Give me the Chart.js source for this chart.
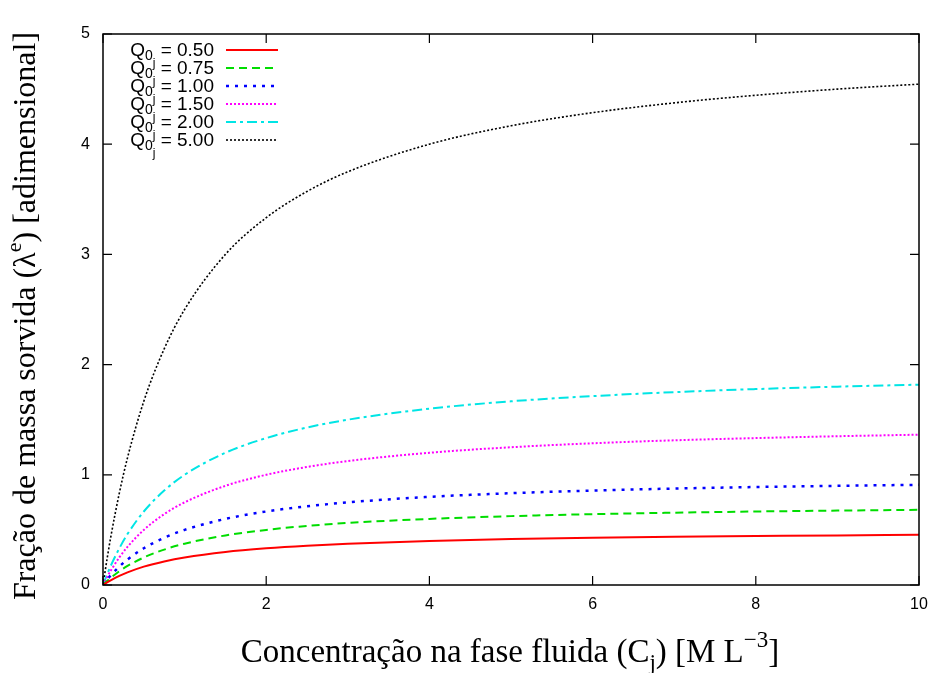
<!DOCTYPE html>
<html>
<head>
<meta charset="utf-8">
<script src="https://cdn.jsdelivr.net/npm/chart.js@4"></script>
<style>
  html, body { margin: 0; padding: 0; background: #fff; }
  #wrap { width: 933px; height: 673px; position: relative; }
</style>
</head>
<body>
<div id="wrap"><canvas id="c"></canvas></div>
<script>
// concentration C_j
const conc = [0, 0.05, 0.1, 0.2, 0.3, 0.5, 0.75, 1, 1.5, 2, 2.5, 3, 4, 5, 6, 7, 8, 9, 10];

const q050 = [0, 0.024, 0.045, 0.083, 0.115, 0.167, 0.214, 0.25, 0.30, 0.333, 0.357, 0.375, 0.40, 0.417, 0.429, 0.438, 0.444, 0.45, 0.455];
const q075 = [0, 0.036, 0.068, 0.125, 0.173, 0.25, 0.321, 0.375, 0.45, 0.50, 0.536, 0.563, 0.60, 0.625, 0.643, 0.656, 0.667, 0.675, 0.682];
const q100 = [0, 0.048, 0.091, 0.167, 0.231, 0.333, 0.429, 0.50, 0.60, 0.667, 0.714, 0.75, 0.80, 0.833, 0.857, 0.875, 0.889, 0.90, 0.909];
const q150 = [0, 0.071, 0.136, 0.25, 0.346, 0.50, 0.643, 0.75, 0.90, 1.00, 1.071, 1.125, 1.20, 1.25, 1.286, 1.313, 1.333, 1.35, 1.364];
const q200 = [0, 0.095, 0.182, 0.333, 0.462, 0.667, 0.857, 1.00, 1.20, 1.333, 1.429, 1.50, 1.60, 1.667, 1.714, 1.75, 1.778, 1.80, 1.818];
const q500 = [0, 0.238, 0.455, 0.833, 1.154, 1.667, 2.143, 2.50, 3.00, 3.333, 3.571, 3.75, 4.00, 4.167, 4.286, 4.375, 4.444, 4.50, 4.545];

const seriesLabels = ["0.50", "0.75", "1.00", "1.50", "2.00", "5.00"];
const xTicks = [0, 2, 4, 6, 8, 10];
const yTicks = [0, 1, 2, 3, 4, 5];

const styles = [
  { color: "#ff0000", width: 2,   dash: [] },
  { color: "#00dd00", width: 2,   dash: [8, 5] },
  { color: "#0000ff", width: 2.5, dash: [3, 6] },
  { color: "#ff00ff", width: 2,   dash: [2, 2] },
  { color: "#00e5e5", width: 2,   dash: [10, 4, 3, 4] },
  { color: "#000000", width: 1.6, dash: [2, 2] }
];

const allSeries = [q050, q075, q100, q150, q200, q500];

const datasets = allSeries.map((s, i) => ({
  label: seriesLabels[i],
  data: conc.map((x, k) => ({ x: x, y: s[k] })),
  showLine: true,
  borderColor: styles[i].color,
  borderWidth: styles[i].width,
  borderDash: styles[i].dash,
  pointRadius: 0,
  cubicInterpolationMode: "monotone",
  fill: false
}));

// draw a string with sub/superscripts: parts = [[text, dy, size], ...]
function drawParts(ctx, parts, x, y, family) {
  let cx = x;
  parts.forEach(p => {
    ctx.font = p[2] + "px " + family;
    ctx.fillText(p[0], cx, y + p[1]);
    cx += ctx.measureText(p[0]).width;
  });
  return cx;
}
function partsWidth(ctx, parts, family) {
  let w = 0;
  parts.forEach(p => { ctx.font = p[2] + "px " + family; w += ctx.measureText(p[0]).width; });
  return w;
}

const frame = {
  id: "frame",
  afterDraw(chart) {
    const ctx = chart.ctx;
    const a = chart.chartArea;
    const xs = chart.scales.x, ys = chart.scales.y;
    ctx.save();
    ctx.strokeStyle = "#000";
    ctx.lineWidth = 1.5;
    ctx.setLineDash([]);
    ctx.strokeRect(a.left, a.top, a.right - a.left, a.bottom - a.top);
    // inward ticks, mirrored
    ctx.lineWidth = 1.2;
    ctx.beginPath();
    xTicks.forEach(v => {
      const px = xs.getPixelForValue(v);
      ctx.moveTo(px, a.bottom); ctx.lineTo(px, a.bottom - 9);
      ctx.moveTo(px, a.top); ctx.lineTo(px, a.top + 9);
    });
    yTicks.forEach(v => {
      const py = ys.getPixelForValue(v);
      ctx.moveTo(a.left, py); ctx.lineTo(a.left + 9, py);
      ctx.moveTo(a.right, py); ctx.lineTo(a.right - 9, py);
    });
    ctx.stroke();

    ctx.fillStyle = "#000";
    ctx.textBaseline = "alphabetic";
    const serif = "'Liberation Serif', 'Times New Roman', serif";

    // x title
    const xt = [["Concentração na fase fluida (C", 0, 33], ["j", 8, 23], [") [M L", 0, 33], ["−3", -15, 23], ["]", 0, 33]];
    const xw = partsWidth(ctx, xt, serif);
    ctx.textAlign = "left";
    drawParts(ctx, xt, 510 - xw / 2, 662, serif);

    // y title
    ctx.save();
    ctx.translate(35, 316);
    ctx.rotate(-Math.PI / 2);
    const yt = [["Fração de massa sorvida (λ", 0, 32], ["e", -14, 22], [") [adimensional]", 0, 32]];
    const yw = partsWidth(ctx, yt, serif);
    drawParts(ctx, yt, -yw / 2, 0, serif);
    ctx.restore();

    // legend
    const sans = "'Liberation Sans', Arial, sans-serif";
    seriesLabels.forEach((lab, i) => {
      const y = 56 + i * 18;
      const parts = [["Q", 0, 19], ["0", 4, 14], ["j", 11, 12], [" = " + lab, 0, 19]];
      const w = partsWidth(ctx, parts, sans);
      ctx.textAlign = "left";
      drawParts(ctx, parts, 214 - w, y, sans);
      const st = styles[i];
      ctx.strokeStyle = st.color;
      ctx.lineWidth = st.width;
      ctx.setLineDash(st.dash);
      ctx.beginPath();
      ctx.moveTo(226, y - 6);
      ctx.lineTo(278, y - 6);
      ctx.stroke();
    });
    ctx.restore();
  }
};

new Chart(document.getElementById("c"), {
  type: "scatter",
  data: { datasets: datasets },
  options: {
    responsive: true,
    maintainAspectRatio: false,
    animation: false,
    layout: { padding: { top: 34, right: 14, left: 0, bottom: 0 } },
    plugins: { legend: { display: false }, tooltip: { enabled: false } },
    scales: {
      x: {
        type: "linear", min: 0, max: 10,
        grid: { display: false, drawTicks: false },
        border: { display: false },
        ticks: { stepSize: 2, padding: 10, color: "#000", font: { size: 16, family: "'Liberation Sans', Arial, sans-serif" } },
        afterFit: s => { s.height = 88; s.paddingRight = 0; s.paddingLeft = 0; }
      },
      y: {
        type: "linear", min: 0, max: 5,
        grid: { display: false, drawTicks: false },
        border: { display: false },
        ticks: { stepSize: 1, padding: 13, color: "#000", font: { size: 16, family: "'Liberation Sans', Arial, sans-serif" } },
        afterFit: s => { s.width = 103; s.paddingTop = 0; s.paddingBottom = 0; }
      }
    }
  },
  plugins: [frame]
});
</script>
</body>
</html>
